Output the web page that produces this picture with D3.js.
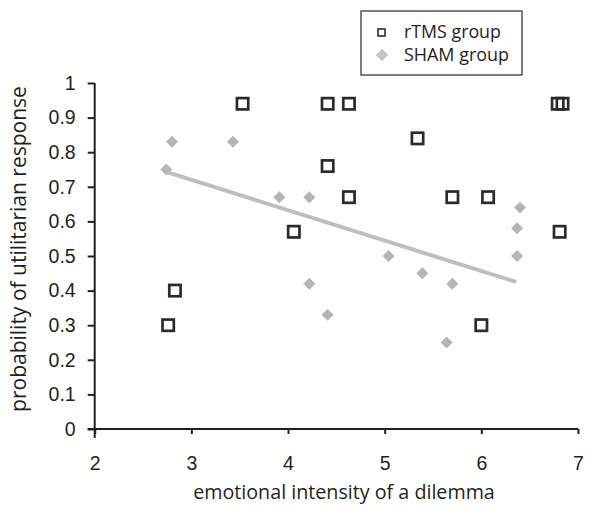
<!DOCTYPE html>
<html>
<head>
<meta charset="utf-8">
<script src="https://cdn.jsdelivr.net/npm/d3@7"></script>
<style>
  html, body { margin: 0; padding: 0; background: #fff; }
  svg { display: block; }
</style>
</head>
<body>
<svg id="chart" width="593" height="507"></svg>
<script>
// ---- data ----
const xTicks = [2, 3, 4, 5, 6, 7];
const yTicks = [0, 0.1, 0.2, 0.3, 0.4, 0.5, 0.6, 0.7, 0.8, 0.9, 1];
const yTickLabels = ["0", "0.1", "0.2", "0.3", "0.4", "0.5", "0.6", "0.7", "0.8", "0.9", "1"];

const rtmsX = [2.76, 2.83, 3.53, 4.41, 4.63, 4.41, 4.06, 4.63, 5.34, 5.70, 6.07, 6.00, 6.79, 6.84, 6.81];
const rtmsY = [0.30, 0.40, 0.94, 0.94, 0.94, 0.76, 0.57, 0.67, 0.84, 0.67, 0.67, 0.30, 0.94, 0.94, 0.57];

const shamX = [2.80, 3.43, 2.74, 3.91, 4.22, 4.22, 4.41, 5.04, 5.39, 5.70, 5.64, 6.40, 6.37, 6.37];
const shamY = [0.83, 0.83, 0.75, 0.67, 0.67, 0.42, 0.33, 0.50, 0.45, 0.42, 0.25, 0.64, 0.58, 0.50];

// SHAM trendline endpoints
const trendX = [2.74, 6.36];
const trendY = [0.743, 0.425];

const seriesNames = ["rTMS group", "SHAM group"];
const xTitle = "emotional intensity of a dilemma";
const yTitle = "probability of utilitarian response";

// ---- drawing ----
const svg = d3.select("#chart");
const axisColor = "#231f20";
const x = d3.scaleLinear().domain([2, 7]).range([94.7, 578]);
const y = d3.scaleLinear().domain([0, 1]).range([429, 83]);

const tickFont = "'Liberation Sans', Arial, sans-serif";
const titleFont = "'Open Sans', 'Noto Sans', sans-serif";

// fit a text element's font size so its width matches a target
function fitWidth(sel, target) {
  const w = sel.node().getComputedTextLength();
  const fs = parseFloat(sel.style("font-size"));
  sel.style("font-size", (fs * target / w).toFixed(2) + "px");
  return sel;
}

// y axis
const yAxis = d3.axisLeft(y).tickValues(yTicks).tickSize(7).tickPadding(12)
  .tickFormat((d, i) => yTickLabels[i]);
const gy = svg.append("g").attr("transform", `translate(${x(2)},0)`).call(yAxis);
gy.attr("font-size", null).attr("font-family", null);
gy.select(".domain").remove();
gy.selectAll(".tick line").attr("stroke", axisColor).attr("stroke-width", 2);
gy.selectAll(".tick text").attr("fill", "#231f20").style("font-family", tickFont).style("font-size", "19.5px");
svg.append("line").attr("x1", x(2)).attr("x2", x(2)).attr("y1", y(1)).attr("y2", y(0) + 9)
  .attr("stroke", axisColor).attr("stroke-width", 2);

// x axis
const xAxis = d3.axisBottom(x).tickValues(xTicks).tickSize(5).tickPadding(22).tickFormat(d3.format("d"));
const gx = svg.append("g").attr("transform", `translate(0,${y(0)})`).call(xAxis);
gx.attr("font-size", null).attr("font-family", null);
gx.select(".domain").remove();
gx.selectAll(".tick line").attr("stroke", axisColor).attr("stroke-width", 2);
gx.selectAll(".tick text").attr("fill", "#231f20").style("font-family", tickFont).style("font-size", "19.5px");
svg.append("line").attr("x1", x(2) - 7).attr("x2", x(7)).attr("y1", y(0)).attr("y2", y(0))
  .attr("stroke", axisColor).attr("stroke-width", 2);

// titles
const xt = svg.append("text").attr("x", 344).attr("y", 499).attr("text-anchor", "middle")
  .style("font-family", titleFont).style("font-size", "18px").attr("fill", "#231f20").text(xTitle);
fitWidth(xt, 302);
const yt = svg.append("text").attr("transform", `translate(26,249) rotate(-90)`)
  .attr("text-anchor", "middle")
  .style("font-family", titleFont).style("font-size", "18px").attr("fill", "#231f20").text(yTitle);
fitWidth(yt, 326);

// trendline
svg.append("line")
  .attr("x1", x(trendX[0])).attr("y1", y(trendY[0]))
  .attr("x2", x(trendX[1])).attr("y2", y(trendY[1]))
  .attr("stroke", "#bebebe").attr("stroke-width", 4);

// SHAM diamonds
const diamond = d3.symbol().type(d3.symbolSquare).size(72);
svg.append("g").selectAll("path").data(shamX.map((v, i) => [v, shamY[i]])).join("path")
  .attr("d", diamond)
  .attr("transform", d => `translate(${x(d[0])},${y(d[1])}) rotate(45)`)
  .attr("fill", "#b5b5b5");

// rTMS squares
const sq = 11.3;
svg.append("g").selectAll("rect").data(rtmsX.map((v, i) => [v, rtmsY[i]])).join("rect")
  .attr("x", d => x(d[0]) - sq / 2).attr("y", d => y(d[1]) - sq / 2)
  .attr("width", sq).attr("height", sq)
  .attr("fill", "none").attr("stroke", "#2b2b2b").attr("stroke-width", 2.7);

// legend
const lg = svg.append("g");
lg.append("rect").attr("x", 361).attr("y", 11).attr("width", 161).attr("height", 64)
  .attr("fill", "none").attr("stroke", "#3a3a3a").attr("stroke-width", 1.3);
lg.append("rect").attr("x", 378).attr("y", 29).attr("width", 7).attr("height", 7)
  .attr("fill", "none").attr("stroke", "#2b2b2b").attr("stroke-width", 1.6);
lg.append("path").attr("d", d3.symbol().type(d3.symbolSquare).size(78))
  .attr("transform", "translate(382,55) rotate(45)").attr("fill", "#c4c4c4");
const legTexts = lg.selectAll("text.leg").data(seriesNames).join("text").attr("class", "leg")
  .attr("x", 404).attr("y", (d, i) => 38 + i * 23)
  .style("font-family", titleFont).style("font-size", "18px").attr("fill", "#231f20")
  .text(d => d);
fitWidth(d3.select(legTexts.nodes()[0]), 97);
fitWidth(d3.select(legTexts.nodes()[1]), 105);
</script>
</body>
</html>
